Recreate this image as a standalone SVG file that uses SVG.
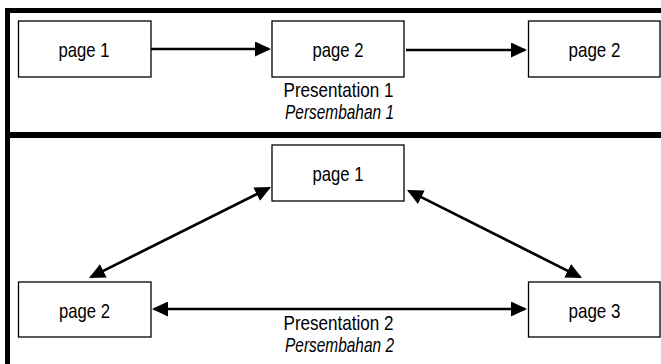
<svg xmlns="http://www.w3.org/2000/svg" width="661" height="364" viewBox="0 0 661 364">
<style>
.box{fill:#fff;stroke:#000;stroke-width:1.3}
.t{font-family:"Liberation Sans Narrow","Liberation Sans",Arial,sans-serif;font-size:21px;fill:#000;text-anchor:middle}
.i{font-style:italic}
.c{stroke:#000;stroke-width:2.7;fill:none}
.frame{stroke:#000;fill:none}
</style>
<defs>
<marker id="ah" markerUnits="userSpaceOnUse" markerWidth="17" markerHeight="15" refX="14" refY="7.5" orient="auto-start-reverse">
<path d="M0,0 L16,7.5 L0,15 z" fill="#000"/>
</marker>
</defs>
<rect width="661" height="364" fill="#fff"/>
<g id="frame">
<path class="frame" d="M7.5,364 V10.5 H661" stroke-width="5"/>
<line class="frame" x1="5" y1="135" x2="661" y2="135" stroke-width="6"/>
</g>
<g id="connectors">
<line class="c" x1="151" y1="49" x2="269" y2="49" marker-end="url(#ah)"/>
<line class="c" x1="406" y1="50" x2="525" y2="50" marker-end="url(#ah)"/>
<line class="c" x1="154" y1="309" x2="525" y2="309" marker-start="url(#ah)" marker-end="url(#ah)"/>
<line class="c" x1="269.2" y1="187.9" x2="90.8" y2="277.1" marker-start="url(#ah)" marker-end="url(#ah)"/>
<line class="c" x1="408.8" y1="190.9" x2="580.2" y2="277.1" marker-start="url(#ah)" marker-end="url(#ah)"/>
</g>
<g id="top-page1">
<rect class="box" x="18.5" y="21" width="132.5" height="56"/>
<text class="t" x="84" y="57" textLength="51" lengthAdjust="spacingAndGlyphs">page 1</text>
</g>
<g id="top-page2">
<rect class="box" x="272" y="21" width="132" height="56"/>
<text class="t" x="338" y="57" textLength="51" lengthAdjust="spacingAndGlyphs">page 2</text>
</g>
<g id="top-page2b">
<rect class="box" x="528.5" y="21" width="131.5" height="56"/>
<text class="t" x="594.5" y="57" textLength="52" lengthAdjust="spacingAndGlyphs">page 2</text>
</g>
<g id="label1">
<text class="t" x="338.5" y="96.5" textLength="110" lengthAdjust="spacingAndGlyphs">Presentation 1</text>
<text class="t i" x="339.5" y="118.5" textLength="109" lengthAdjust="spacingAndGlyphs">Persembahan 1</text>
</g>
<g id="bot-page1">
<rect class="box" x="272" y="145" width="132" height="56"/>
<text class="t" x="338" y="181" textLength="51" lengthAdjust="spacingAndGlyphs">page 1</text>
</g>
<g id="bot-page2">
<rect class="box" x="18.5" y="282" width="132.5" height="55"/>
<text class="t" x="84.5" y="318" textLength="51" lengthAdjust="spacingAndGlyphs">page 2</text>
</g>
<g id="bot-page3">
<rect class="box" x="528.5" y="282" width="131.5" height="55"/>
<text class="t" x="594.5" y="318" textLength="52" lengthAdjust="spacingAndGlyphs">page 3</text>
</g>
<g id="label2">
<text class="t" x="338.5" y="330" textLength="110" lengthAdjust="spacingAndGlyphs">Presentation 2</text>
<text class="t i" x="339.5" y="352" textLength="109" lengthAdjust="spacingAndGlyphs">Persembahan 2</text>
</g>
</svg>
